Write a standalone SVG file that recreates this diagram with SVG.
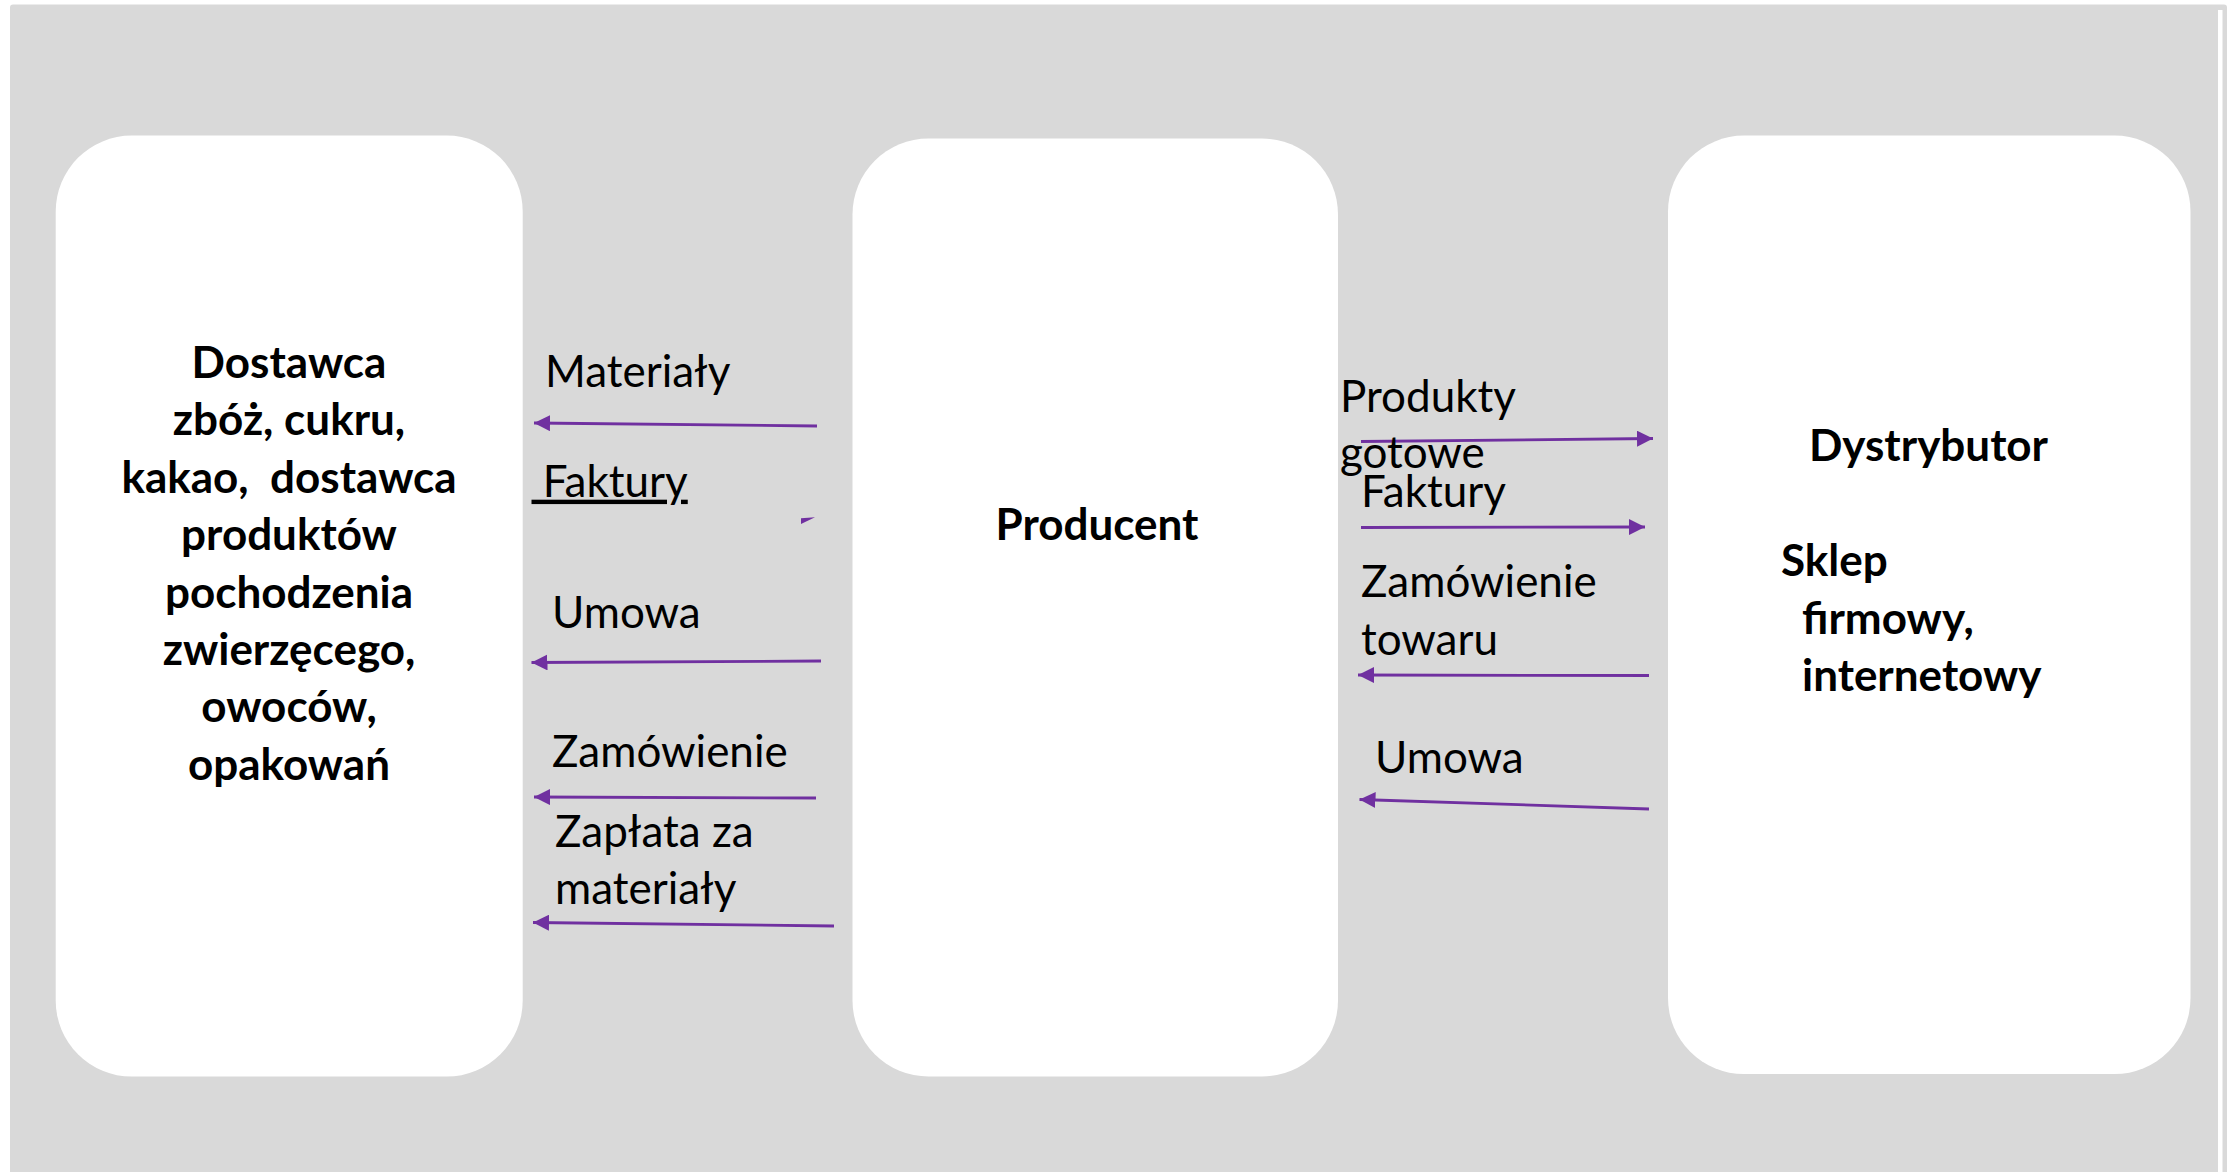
<svg xmlns="http://www.w3.org/2000/svg" width="2239" height="1172" viewBox="0 0 2239 1172">
  <style>
    .node { fill: #FFFFFF; }
    .title { font-family: Lato, "Liberation Sans", sans-serif; font-weight: bold; font-size: 44px; fill: #000000; }
    .label { font-family: Lato, "Liberation Sans", sans-serif; font-size: 44px; fill: #000000; }
    .flow { fill: none; stroke: #7030A0; stroke-width: 2.8; marker-end: url(#head); }
  </style>
  <defs>
    <marker id="head" markerUnits="userSpaceOnUse" markerWidth="16" markerHeight="16" refX="16" refY="8" orient="auto">
      <path d="M0,0 L16,8 L0,16 Z" fill="#7030A0"/>
    </marker>
  </defs>

  <!-- canvas -->
  <rect x="0" y="0" width="2239" height="1172" fill="#FFFFFF"/>
  <rect x="10" y="4.5" width="2217" height="1180" rx="3" fill="#D9D9D9"/>
  <rect x="2218" y="10" width="4.5" height="1170" fill="#FFFFFF"/>

  <!-- supplier -->
  <g id="dostawca">
    <rect class="node" x="55.7" y="135.6" width="467" height="941" rx="76" ry="76"/>
    <text class="title" text-anchor="middle"><tspan x="289" y="378">Dostawca</tspan><tspan x="289" y="435.4">zbóż, cukru,</tspan><tspan x="289" y="492.8">kakao,&#160; dostawca</tspan><tspan x="289" y="550.2">produktów</tspan><tspan x="289" y="607.6">pochodzenia</tspan><tspan x="289" y="665">zwierzęcego,</tspan><tspan x="289" y="722.4">owoców,</tspan><tspan x="289" y="779.8">opakowań</tspan></text>
  </g>

  <!-- producer -->
  <g id="producent">
    <rect class="node" x="852.5" y="138.5" width="485.5" height="938" rx="76" ry="76"/>
    <text class="title" x="1097" y="540" text-anchor="middle">Producent</text>
  </g>

  <!-- distributor -->
  <g id="dystrybutor">
    <rect class="node" x="1668" y="135.6" width="522.5" height="938.5" rx="76" ry="76"/>
    <text class="title" x="1809" y="461">Dystrybutor</text>
    <text class="title" x="1781" y="576">Sklep</text>
    <text class="title" x="1802" y="633.5">firmowy,</text>
    <text class="title" x="1802" y="691">internetowy</text>
  </g>

  <!-- flows between the parties -->
  <g id="connectors">
    <path class="flow" d="M817,426 L534,423"/>
    <polygon points="801,518.3 815,517.3 801,524" fill="#7030A0"/>
    <path class="flow" d="M821,661 L531.5,662.5"/>
    <path class="flow" d="M816,798 L534,797"/>
    <path class="flow" d="M834,926 L533,922.5"/>

    <path class="flow" d="M1361,441.5 L1653,438.5"/>
    <path class="flow" d="M1361,527.5 L1645,527"/>
    <path class="flow" d="M1649,675.5 L1358,675"/>
    <path class="flow" d="M1649,809 L1359.5,799.5"/>
  </g>

  <!-- flow labels -->
  <g id="labels">
    <text class="label" x="545" y="386.7">Materiały</text>
    <text class="label" x="531.5" y="496.7" text-decoration="underline"><tspan>&#160;Faktury</tspan></text>
    <text class="label" x="552" y="628">Umowa</text>
    <text class="label" x="552" y="766.7">Zamówienie</text>
    <text class="label" x="555" y="846.7">Zapłata za</text>
    <text class="label" x="555" y="904">materiały</text>

    <text class="label" x="1340" y="412.3">Produkty</text>
    <text class="label" x="1340" y="468.3">gotowe</text>
    <text class="label" x="1361" y="506.7">Faktury</text>
    <text class="label" x="1361" y="596.7">Zamówienie</text>
    <text class="label" x="1361" y="655">towaru</text>
    <text class="label" x="1375" y="773.3">Umowa</text>
  </g>
</svg>
